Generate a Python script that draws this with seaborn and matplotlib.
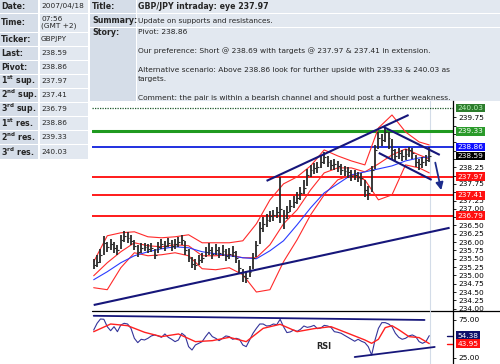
import numpy as np
import pandas as pd
import seaborn as sns
import matplotlib.pyplot as plt
from matplotlib.patches import Rectangle, FancyArrowPatch

# ---------------- data ----------------
table_labels = ['Date:', 'Time:', 'Ticker:', 'Last:', 'Pivot:',
                r'1$^{\mathbf{st}}$ sup.', r'2$^{\mathbf{nd}}$ sup.', r'3$^{\mathbf{rd}}$ sup.',
                r'1$^{\mathbf{st}}$ res.', r'2$^{\mathbf{nd}}$ res.', r'3$^{\mathbf{rd}}$ res.']
table_values = ['2007/04/18', '07:56\n(GMT +2)', 'GBPJPY', '238.59', '238.86',
                '237.97', '237.41', '236.79', '238.86', '239.33', '240.03']

head_labels = ['Title:', 'Summary:', 'Story:']
title_text = 'GBP/JPY intraday: eye 237.97'
summary_text = 'Update on supports and resistances.'
story_lines = ['Pivot: 238.86', '',
               'Our preference: Short @ 238.69 with targets @ 237.97 & 237.41 in extension.', '',
               'Alternative scenario: Above 238.86 look for further upside with 239.33 & 240.03 as',
               'targets.', '',
               'Comment: the pair is within a bearish channel and should post a further weakness.']

close = [235.32, 235.41, 235.62, 235.98, 235.86, 235.95, 235.83, 235.77, 236.07, 236.19,
         236.13, 236.04, 235.89, 235.71, 235.83, 235.86, 235.80, 235.83, 235.62, 235.86,
         235.95, 235.89, 235.98, 235.89, 235.95, 236.01, 236.07, 235.77, 235.53, 235.35,
         235.32, 235.47, 235.53, 235.71, 235.77, 235.65, 235.77, 235.68, 235.74, 235.59,
         235.65, 235.71, 235.53, 235.23, 234.99, 234.93, 235.11, 235.53, 235.92, 236.43,
         236.55, 236.67, 236.79, 236.82, 236.91, 237.00, 236.73, 236.91, 237.09, 237.21,
         237.33, 237.48, 237.63, 238.02, 238.17, 238.23, 238.26, 238.41, 238.56, 238.41,
         238.32, 238.35, 238.29, 238.17, 238.14, 238.11, 237.99, 238.02, 237.96, 237.93,
         237.57, 237.48, 238.17, 238.77, 239.13, 239.07, 239.31, 239.13, 238.77, 238.59,
         238.68, 238.59, 238.65, 238.77, 238.68, 238.41, 238.35, 238.41, 238.47, 238.59]
high = [235.50, 235.60, 235.80, 236.18, 236.00, 236.08, 236.00, 235.92, 236.20, 236.33,
        236.30, 236.22, 236.05, 235.90, 235.98, 235.98, 235.94, 235.96, 235.80, 236.00,
        236.10, 236.04, 236.12, 236.05, 236.10, 236.14, 236.20, 236.02, 235.80, 235.56,
        235.50, 235.62, 235.68, 235.86, 235.96, 235.84, 235.93, 235.86, 235.90, 235.78,
        235.82, 235.88, 235.72, 235.46, 235.20, 235.12, 235.28, 235.66, 236.02, 236.60,
        236.75, 236.84, 236.92, 236.96, 237.05, 237.96, 236.95, 237.10, 237.26, 237.40,
        237.50, 237.66, 237.86, 238.20, 238.32, 238.38, 238.42, 238.58, 238.70, 238.58,
        238.48, 238.50, 238.44, 238.36, 238.30, 238.26, 238.16, 238.18, 238.12, 238.08,
        237.86, 237.70, 238.30, 238.92, 239.30, 239.26, 239.46, 239.30, 239.10, 238.80,
        238.82, 238.76, 238.80, 238.86, 238.84, 238.62, 238.50, 238.56, 238.62, 238.86]
low = [235.20, 235.25, 235.38, 235.60, 235.70, 235.76, 235.68, 235.62, 235.80, 236.00,
       235.98, 235.90, 235.75, 235.55, 235.68, 235.72, 235.66, 235.70, 235.50, 235.66,
       235.80, 235.74, 235.84, 235.72, 235.80, 235.86, 235.90, 235.62, 235.40, 235.22,
       235.15, 235.30, 235.36, 235.55, 235.60, 235.50, 235.60, 235.52, 235.58, 235.44,
       235.50, 235.55, 235.38, 235.08, 234.80, 234.76, 234.95, 235.18, 235.56, 235.95,
       236.30, 236.45, 236.60, 236.64, 236.72, 236.58, 236.40, 236.70, 236.90, 237.02,
       237.14, 237.28, 237.44, 237.70, 237.96, 238.05, 238.08, 238.22, 238.35, 238.25,
       238.16, 238.18, 238.10, 238.02, 237.98, 237.94, 237.84, 237.86, 237.80, 237.70,
       237.36, 237.27, 237.50, 238.20, 238.80, 238.90, 239.02, 238.80, 238.50, 238.44,
       238.50, 238.44, 238.48, 238.56, 238.50, 238.26, 238.18, 238.22, 238.30, 238.40]

band_idx = [0, 4, 8, 12, 16, 20, 24, 28, 32, 36, 40, 44, 48, 52, 56, 60, 64, 68, 72,
            76, 80, 84, 88, 92, 96, 99]
band_upper = [235.41, 236.19, 236.28, 236.31, 236.16, 236.13, 236.16, 236.22, 235.98, 235.98,
              235.98, 236.04, 236.55, 237.27, 237.75, 237.96, 238.29, 238.77, 238.59, 238.44,
              238.32, 239.43, 239.82, 239.31, 239.01, 238.92]
band_mid = [234.99, 235.38, 235.71, 235.98, 235.89, 235.86, 235.92, 235.89, 235.59, 235.59,
            235.62, 235.53, 235.53, 235.92, 236.55, 236.97, 237.57, 238.08, 238.23, 238.23,
            238.11, 238.35, 238.62, 238.80, 238.62, 238.50]
band_lower = [234.63, 234.57, 235.23, 235.68, 235.59, 235.62, 235.68, 235.59, 235.20, 235.17,
              235.23, 235.02, 234.50, 234.57, 235.41, 236.07, 236.82, 237.42, 237.87, 238.02,
              237.87, 237.27, 237.42, 238.32, 238.23, 238.08]
ma_blue = [234.87, 235.11, 235.38, 235.59, 235.71, 235.80, 235.86, 235.83, 235.71, 235.65,
           235.59, 235.53, 235.50, 235.74, 236.04, 236.52, 237.03, 237.48, 237.75, 238.02,
           238.11, 238.20, 238.29, 238.44, 238.53, 238.56]

level_values = [240.03, 239.33, 238.86, 237.97, 237.41, 236.79]
level_colors = ['#1d5a2a', '#1f9a1f', '#2030e0', '#ff1a1a', '#ff1a1a', '#ff1a1a']
last_value = 238.59

price_ticks = [234.00, 234.25, 234.50, 234.75, 235.00, 235.25, 235.50, 235.75, 236.00,
               236.25, 236.50, 236.75, 237.00, 237.25, 237.50, 237.75, 238.00, 238.25,
               238.50, 238.75, 239.00, 239.25, 239.50, 239.75]
# tick labels that sit under the level boxes on the right
hidden_ticks = [236.75, 237.50, 238.00, 238.50, 238.75, 239.00, 239.25, 239.50]

# trend lines: (bar index, price) end points
trend_lines = [((0.0, 234.11), (105.0, 236.43)),
               ((51.0, 237.84), (92.9, 239.82)),
               ((85.5, 239.46), (102.1, 238.62)),
               ((84.1, 238.68), (99.7, 237.87))]
arrow_from = (100.6, 238.47)
arrow_to = (102.7, 237.48)

rsi = [61.8, 70.6, 76.3, 75.9, 66.2, 60.9, 66.2, 59.6, 68.4, 70.6,
       69.7, 64.0, 50.9, 45.2, 49.6, 48.7, 50.9, 54.0, 55.3, 54.0,
       52.2, 56.6, 52.2, 49.6, 46.5, 48.7, 57.5, 54.0, 39.9, 35.5,
       42.1, 44.3, 46.5, 53.1, 58.8, 53.1, 50.9, 47.8, 50.9, 54.0,
       53.1, 49.6, 50.9, 49.6, 42.1, 39.9, 48.7, 57.5, 64.0, 69.7,
       69.7, 67.1, 67.5, 69.7, 68.8, 75.9, 66.2, 58.4, 59.3, 61.8,
       60.0, 62.7, 67.1, 65.3, 66.2, 67.9, 63.6, 64.4, 67.9, 67.1,
       65.3, 59.6, 58.8, 57.5, 54.8, 52.2, 49.6, 47.0, 49.6, 47.0,
       45.2, 39.9, 28.9, 48.7, 64.0, 71.5, 71.5, 69.7, 66.2, 57.5,
       52.2, 49.6, 50.9, 54.0, 55.3, 53.1, 46.5, 44.3, 46.5, 54.38]
sig_idx = [0, 5, 10, 15, 20, 25, 30, 35, 40, 45, 50, 55, 60, 65, 70, 75, 80, 82, 84,
           86, 88, 90, 93, 96, 99]
rsi_sig = [59.6, 69.7, 67.5, 58.8, 53.1, 56.6, 46.5, 47.8, 52.2, 46.5, 64.0, 69.3, 59.6,
           63.6, 66.2, 57.5, 48.7, 44.3, 49.6, 64.9, 67.5, 62.2, 53.1, 51.8, 43.95]
rsi_res = ((0.0, 80.5), (97.6, 75.0))
rsi_sup = ((77.0, 26.3), (100.6, 39.5))
rsi_ticks = [25.0, 75.0]

# ---------------- style ----------------
sns.set_style('white')
plt.rcParams['font.family'] = ['DejaVu Sans']
plt.rcParams['mathtext.fontset'] = 'dejavusans'

NAVY = '#16167a'
CELL_LAB = '#d5dde8'
CELL_VAL = '#e2e8f0'
FS = 5.3

fig = plt.figure(figsize=(5, 3.64), dpi=100)
fig.patch.set_facecolor('white')

# pixel-space background layer for the info tables
bg = fig.add_axes([0, 0, 1, 1])
bg.set_xlim(0, 500)
bg.set_ylim(364, 0)
bg.axis('off')

row_edges = [0, 14, 33, 47, 61, 75, 89, 103, 117, 131, 145, 160]
for i, (lab, val) in enumerate(zip(table_labels, table_values)):
    t, b = row_edges[i], row_edges[i + 1]
    bg.add_patch(Rectangle((0, t), 38, b - t - 1.5, fc=CELL_LAB, ec='none'))
    bg.add_patch(Rectangle((39.5, t), 48.5, b - t - 1.5, fc=CELL_VAL, ec='none'))
    yc = (t + b - 1.5) / 2
    bg.text(1, yc, lab, fontsize=FS + 0.4, fontweight='bold', va='center', ha='left')
    bg.text(41, yc, val, fontsize=FS, va='center', ha='left', linespacing=1.1)

head_edges = [0, 14, 28, 102]
for i, lab in enumerate(head_labels):
    t, b = head_edges[i], head_edges[i + 1]
    bg.add_patch(Rectangle((90, t), 45.5, b - t - 1.5, fc=CELL_LAB, ec='none'))
    bg.add_patch(Rectangle((137, t), 363, b - t - 1.5, fc=CELL_VAL, ec='none'))
    bg.text(92, t + 6.5 if i < 2 else t + 4.5, lab, fontsize=FS + 0.4, fontweight='bold',
            va='center', ha='left')
bg.text(138, 6.5, title_text, fontsize=FS + 0.4, fontweight='bold', va='center', ha='left')
bg.text(138, 20.5, summary_text, fontsize=FS, va='center', ha='left')
for k, line in enumerate(story_lines):
    bg.text(138, 32.5 + 9.3 * k, line, fontsize=FS + 0.1, va='center', ha='left')

bg.plot([92, 500], [311, 311], color='black', lw=0.9)

# ---------------- price panel ----------------
ax = fig.add_axes([92 / 500, 53 / 364, 361 / 500, 210 / 364])
axr = fig.add_axes([92 / 500, 0, 361 / 500, 53 / 364])
for a in (ax, axr):
    a.set_facecolor('none')
    for s in ('left', 'top', 'bottom'):
        a.spines[s].set_visible(False)
    a.spines['right'].set_color('black')
    a.spines['right'].set_linewidth(0.9)
    a.yaxis.tick_right()
    a.tick_params(axis='y', direction='out', length=2.5, width=0.6, labelsize=FS, pad=1.2,
                  colors='black')
    a.set_xticks([])
    a.set_xlim(-0.5, 106.0)
    a.axvline(99.2, color='#d3dce8', lw=0.8, zorder=0)

ax.set_ylim(233.93, 240.24)
ax.set_yticks(price_ticks)
ax.set_yticklabels(['' if t in hidden_ticks else f'{t:.2f}' for t in price_ticks])

idx = np.arange(len(close))
for val, col in zip(level_values, level_colors):
    if val == 240.03:
        ax.axhline(val, color=col, lw=0.9, ls=(0, (1, 1)), zorder=2)
    elif val == 239.33:
        ax.axhline(val, color=col, lw=2.2, zorder=2)
    else:
        ax.axhline(val, color=col, lw=1.4, zorder=2)

bands = pd.DataFrame({'i': band_idx, 'up': band_upper, 'mid': band_mid,
                      'low': band_lower, 'ma': ma_blue})
for col, c in (('up', '#ff2a2a'), ('mid', '#ff2a2a'), ('low', '#ff2a2a'), ('ma', '#2a3cff')):
    sns.lineplot(data=bands, x='i', y=col, ax=ax, color=c, lw=0.8, zorder=3, legend=False)

ax.vlines(idx, low, high, color='#2a2a2a', lw=1.3, zorder=4)
ax.hlines(close, idx, idx + 0.55, color='#2a2a2a', lw=0.8, zorder=4)

for (x0, y0), (x1, y1) in trend_lines:
    ax.plot([x0, x1], [y0, y1], color=NAVY, lw=1.5, zorder=5, solid_capstyle='butt')
ax.add_patch(FancyArrowPatch(arrow_from, arrow_to, arrowstyle='-|>', mutation_scale=11,
                             color='#1c2c8c', lw=1.3, zorder=6))
ax.set_xlabel('')
ax.set_ylabel('')

box_fc = ['#2d7d2d', '#2a9a2a', '#1010ff', '#ff1010', '#ff1010', '#ff1010']
box_tc = ['#b8f0b8', 'white', 'white', 'white', 'white', 'white']
ytr = ax.get_yaxis_transform()
for val, fc, tc in zip(level_values, box_fc, box_tc):
    ax.text(1.013, val, f'{val:.2f}', transform=ytr, fontsize=FS, color=tc, ha='left',
            va='center', clip_on=False, zorder=10,
            bbox=dict(boxstyle='square,pad=0.18', fc=fc, ec='none'))
ax.text(1.013, last_value, f'{last_value:.2f}', transform=ytr, fontsize=FS, color='white',
        ha='left', va='center', clip_on=False, zorder=10,
        bbox=dict(boxstyle='square,pad=0.18', fc='black', ec='none'))

# ---------------- RSI panel ----------------
axr.set_ylim(17.1, 86.8)
axr.set_yticks(rsi_ticks)
axr.set_yticklabels([f'{t:.2f}' for t in rsi_ticks])
rsi_df = pd.DataFrame({'i': idx, 'rsi': rsi})
sig_df = pd.DataFrame({'i': sig_idx, 'sig': rsi_sig})
sns.lineplot(data=rsi_df, x='i', y='rsi', ax=axr, color='#34349a', lw=0.8, legend=False)
sns.lineplot(data=sig_df, x='i', y='sig', ax=axr, color='#ff2020', lw=1.0, legend=False)
for (x0, y0), (x1, y1) in (rsi_res, rsi_sup):
    axr.plot([x0, x1], [y0, y1], color=NAVY, lw=1.3, zorder=5)
axr.text(68, 39.5, 'RSI', fontsize=FS + 0.6, fontweight='bold', ha='center', va='center')
axr.set_xlabel('')
axr.set_ylabel('')
rtr = axr.get_yaxis_transform()
for val, fc in ((rsi[-1], '#10106a'), (rsi_sig[-1], '#ff1010')):
    axr.plot([104.3, 106.0], [val, val], color=fc, lw=1.0, zorder=6)
    axr.text(1.013, val, f'{val:.2f}', transform=rtr, fontsize=FS, color='white', ha='left',
             va='center', clip_on=False, zorder=10,
             bbox=dict(boxstyle='square,pad=0.18', fc=fc, ec='none'))

fig.savefig('out.png', dpi=100)
